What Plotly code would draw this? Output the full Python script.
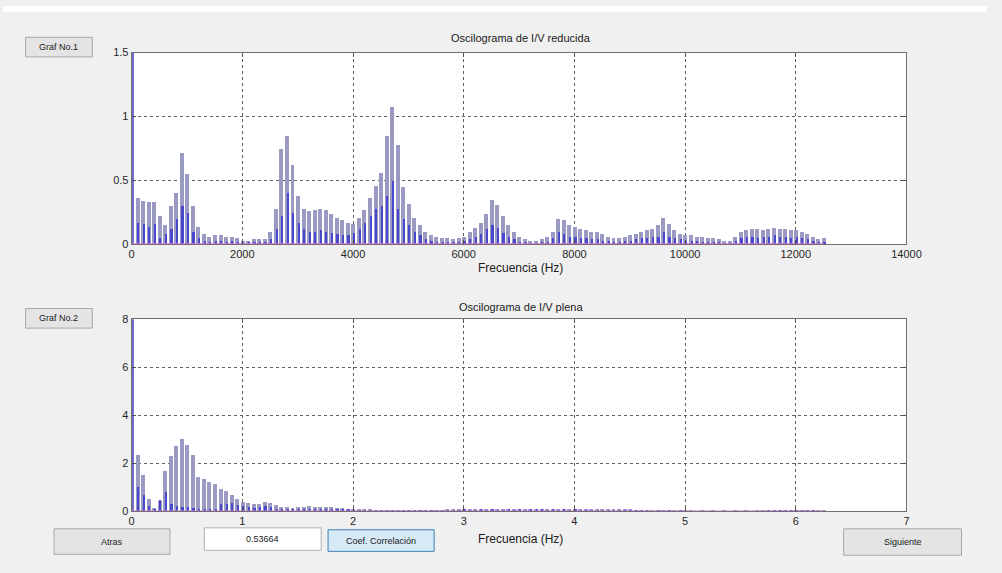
import plotly.graph_objects as go

# ---------------- data ----------------
freq_top = [100 * k for k in range(126)]          # Hz, 0 .. 12500
light_top = [0.45, 0.36, 0.34, 0.33, 0.33, 0.22, 0.15, 0.30, 0.40, 0.72,
             0.55, 0.30, 0.14, 0.08, 0.06, 0.07, 0.07, 0.06, 0.06, 0.05,
             0.03, 0.03, 0.04, 0.04, 0.04, 0.10, 0.28, 0.75, 0.85, 0.62,
             0.38, 0.28, 0.26, 0.27, 0.28, 0.27, 0.24, 0.21, 0.19, 0.17,
             0.16, 0.21, 0.27, 0.36, 0.46, 0.56, 0.85, 1.08, 0.78, 0.45,
             0.32, 0.21, 0.15, 0.10, 0.07, 0.06, 0.05, 0.05, 0.04, 0.05,
             0.06, 0.10, 0.13, 0.17, 0.24, 0.35, 0.31, 0.22, 0.15, 0.10,
             0.06, 0.04, 0.03, 0.03, 0.04, 0.06, 0.10, 0.20, 0.19, 0.15,
             0.14, 0.12, 0.11, 0.10, 0.10, 0.08, 0.06, 0.05, 0.05, 0.06,
             0.07, 0.08, 0.10, 0.11, 0.12, 0.15, 0.21, 0.16, 0.11, 0.08,
             0.07, 0.07, 0.06, 0.06, 0.05, 0.05, 0.04, 0.03, 0.03, 0.06,
             0.10, 0.11, 0.12, 0.12, 0.11, 0.12, 0.13, 0.12, 0.12, 0.11,
             0.11, 0.10, 0.08, 0.06, 0.04, 0.05]
dark_top = [0.20, 0.17, 0.16, 0.14, 0.16, 0.05, 0.08, 0.12, 0.20, 0.30,
            0.25, 0.10, 0.05, 0.03, 0.02, 0.03, 0.03, 0.02, 0.03, 0.02,
            0.01, 0.02, 0.02, 0.02, 0.02, 0.04, 0.12, 0.22, 0.40, 0.25,
            0.17, 0.12, 0.10, 0.10, 0.11, 0.10, 0.09, 0.08, 0.07, 0.07,
            0.09, 0.12, 0.17, 0.22, 0.28, 0.30, 0.38, 0.50, 0.28, 0.20,
            0.15, 0.10, 0.07, 0.04, 0.03, 0.02, 0.02, 0.02, 0.02, 0.02,
            0.03, 0.04, 0.06, 0.08, 0.12, 0.15, 0.13, 0.09, 0.06, 0.04,
            0.02, 0.02, 0.01, 0.01, 0.02, 0.02, 0.05, 0.10, 0.08, 0.06,
            0.06, 0.05, 0.05, 0.04, 0.04, 0.03, 0.03, 0.02, 0.02, 0.03,
            0.03, 0.04, 0.05, 0.05, 0.06, 0.06, 0.10, 0.06, 0.05, 0.04,
            0.03, 0.03, 0.03, 0.02, 0.02, 0.02, 0.02, 0.01, 0.01, 0.03,
            0.05, 0.06, 0.06, 0.05, 0.06, 0.06, 0.07, 0.06, 0.06, 0.05,
            0.06, 0.05, 0.04, 0.03, 0.02, 0.02]
dc_top = 1.6

freq_bot = [0.05 * k for k in range(126)]          # Hz, 0 .. 6.25
light_bot = [2.20, 2.35, 1.50, 0.50, 0.12, 0.40, 1.65, 2.30, 2.70, 3.00,
             2.75, 2.35, 1.40, 1.35, 1.20, 1.12, 0.92, 0.85, 0.65, 0.50,
             0.38, 0.33, 0.30, 0.30, 0.38, 0.32, 0.25, 0.18, 0.15, 0.14,
             0.15, 0.17, 0.20, 0.18, 0.17, 0.17, 0.15, 0.14, 0.12, 0.10,
             0.08, 0.06, 0.06, 0.05, 0.03, 0.03, 0.02, 0.03, 0.02, 0.02,
             0.03, 0.02, 0.03, 0.02, 0.02, 0.02, 0.03, 0.06, 0.06, 0.07,
             0.08, 0.07, 0.07, 0.08, 0.07, 0.08, 0.07, 0.07, 0.08, 0.07,
             0.08, 0.07, 0.08, 0.10, 0.08, 0.07, 0.08, 0.07, 0.08, 0.07,
             0.08, 0.07, 0.07, 0.06, 0.07, 0.06, 0.06, 0.05, 0.06, 0.05,
             0.04, 0.03, 0.02, 0.02, 0.01, 0.02, 0.01, 0.02, 0.01, 0.02,
             0.01, 0.01, 0.00, 0.01, 0.00, 0.01, 0.00, 0.01, 0.00, 0.01,
             0.00, 0.01, 0.00, 0.01, 0.01, 0.01, 0.02, 0.03, 0.02, 0.03,
             0.03, 0.02, 0.03, 0.02, 0.01, 0.01]
dark_bot = [1.10, 1.00, 0.65, 0.20, 0.05, 0.45, 0.80, 0.30, 0.20, 0.15,
            0.15, 0.12, 0.10, 0.10, 0.10, 0.08, 0.30, 0.30, 0.35, 0.25,
            0.20, 0.15, 0.12, 0.15, 0.20, 0.15, 0.10, 0.08, 0.06, 0.05,
            0.06, 0.07, 0.08, 0.07, 0.06, 0.06, 0.05, 0.05, 0.04, 0.04,
            0.03, 0.02, 0.02, 0.02, 0.01, 0.01, 0.01, 0.01, 0.01, 0.01,
            0.01, 0.01, 0.01, 0.01, 0.01, 0.01, 0.01, 0.02, 0.03, 0.03,
            0.04, 0.03, 0.03, 0.04, 0.03, 0.04, 0.03, 0.03, 0.04, 0.03,
            0.04, 0.03, 0.04, 0.05, 0.04, 0.03, 0.04, 0.03, 0.04, 0.03,
            0.04, 0.03, 0.03, 0.03, 0.03, 0.03, 0.03, 0.02, 0.03, 0.02,
            0.02, 0.01, 0.01, 0.01, 0.00, 0.01, 0.00, 0.01, 0.00, 0.01,
            0.00, 0.00, 0.00, 0.00, 0.00, 0.00, 0.00, 0.00, 0.00, 0.00,
            0.00, 0.00, 0.00, 0.00, 0.00, 0.01, 0.01, 0.01, 0.01, 0.01,
            0.01, 0.01, 0.01, 0.01, 0.00, 0.00]
dc_bot = 8.5

top_xticks = [0, 2000, 4000, 6000, 8000, 10000, 12000, 14000]
top_xticklabels = ["0", "2000", "4000", "6000", "8000", "10000", "12000", "14000"]
top_yticks = [0, 0.5, 1, 1.5]
top_yticklabels = ["0", "0.5", "1", "1.5"]
bot_xticks = [0, 1, 2, 3, 4, 5, 6, 7]
bot_yticks = [0, 2, 4, 6, 8]

title_top = "Oscilograma de I/V reducida"
title_bot = "Oscilograma de I/V plena"
xlabel = "Frecuencia (Hz)"
coef_value = "0.53664"

# ---------------- figure ----------------
W, H = 1002, 573
LIGHT = "#9a9ac2"
DARK = "#4848cc"
PINK = "#e070e0"
FONT = "Liberation Sans"


def px(x):
    return x / W


def py(y):
    return 1 - y / H


fig = go.Figure()

# top panel
fig.add_trace(go.Bar(x=freq_top, y=light_top, width=72, offset=-36,
                     marker=dict(color=LIGHT, line=dict(width=0)),
                     xaxis="x", yaxis="y", showlegend=False))
fig.add_trace(go.Bar(x=freq_top, y=dark_top, width=30, offset=2,
                     marker=dict(color=DARK, line=dict(width=0)),
                     xaxis="x", yaxis="y", showlegend=False))
fig.add_trace(go.Bar(x=[freq_top[0]], y=[dc_top], width=25, offset=0,
                     marker=dict(color="#7070cc", line=dict(width=0)),
                     xaxis="x", yaxis="y", showlegend=False))
fig.add_trace(go.Scatter(x=[freq_top[0], freq_top[-1]], y=[0, 0], mode="lines",
                         line=dict(color=PINK, width=1.5),
                         xaxis="x", yaxis="y", showlegend=False))

# bottom panel
fig.add_trace(go.Bar(x=freq_bot, y=light_bot, width=0.036, offset=-0.018,
                     marker=dict(color=LIGHT, line=dict(width=0)),
                     xaxis="x2", yaxis="y2", showlegend=False))
fig.add_trace(go.Bar(x=freq_bot, y=dark_bot, width=0.015, offset=0.001,
                     marker=dict(color=DARK, line=dict(width=0)),
                     xaxis="x2", yaxis="y2", showlegend=False))
fig.add_trace(go.Bar(x=[freq_bot[0]], y=[dc_bot], width=0.012, offset=0,
                     marker=dict(color="#7070cc", line=dict(width=0)),
                     xaxis="x2", yaxis="y2", showlegend=False))
fig.add_trace(go.Scatter(x=[freq_bot[0], freq_bot[-1]], y=[0, 0], mode="lines",
                         line=dict(color=PINK, width=1.5),
                         xaxis="x2", yaxis="y2", showlegend=False))

axis_common = dict(showline=True, linecolor="#707070", linewidth=1, mirror="ticks",
                   ticks="inside", ticklen=4, tickcolor="#505050",
                   showgrid=True, gridcolor="#606060", griddash="dot", gridwidth=1,
                   zeroline=False, tickfont=dict(family=FONT, size=11, color="#262626"))

xdom = [px(131), px(920)]
fig.update_layout(
    width=W, height=H,
    margin=dict(l=0, r=0, t=0, b=0),
    paper_bgcolor="#f0f0f0",
    plot_bgcolor="white",
    barmode="overlay",
    bargap=0,
    xaxis=dict(domain=xdom, range=[0, 14000], tickvals=top_xticks,
               ticktext=top_xticklabels, anchor="y", **axis_common),
    yaxis=dict(domain=[py(243), py(47.5)], range=[0, 1.5], tickvals=top_yticks,
               ticktext=top_yticklabels, anchor="x", **axis_common),
    xaxis2=dict(domain=xdom, range=[0, 7], tickvals=bot_xticks, anchor="y2",
                **axis_common),
    yaxis2=dict(domain=[py(516), py(320)], range=[0, 8], tickvals=bot_yticks,
                anchor="x2", **axis_common),
)

shapes = []
annotations = []

# white strip along the top edge
shapes.append(dict(type="rect", xref="paper", yref="paper", x0=0, x1=1,
                   y0=py(6), y1=1, fillcolor="white", line=dict(width=0), layer="below"))


def text(x, y, s, size=11, color="#1a1a1a"):
    annotations.append(dict(xref="paper", yref="paper", x=px(x), y=py(y), text=s,
                            showarrow=False, xanchor="center", yanchor="middle",
                            font=dict(family=FONT, size=size, color=color)))


def button(x0, y0, x1, y1, label, fill="#e4e4e4", border="#a8a8a8", size=9):
    shapes.append(dict(type="rect", xref="paper", yref="paper",
                       x0=px(x0), x1=px(x1), y0=py(y1), y1=py(y0),
                       fillcolor=fill, line=dict(color=border, width=1)))
    text((x0 + x1) / 2, (y0 + y1) / 2, label, size=size, color="#202020")


text(527, 33, title_top, size=11)
text(527, 307, title_bot, size=11)
text(527, 268, xlabel, size=12)
text(527, 544, xlabel, size=12)

button(23, 32, 91, 52, "Graf No.1")
button(23, 309, 91, 329, "Graf No.2")
button(52, 534, 170, 560, "Atras")
button(205, 533, 324, 556, coef_value, fill="white", border="#b0b0b0")
button(331, 535, 439, 557, "Coef. Correlación", fill="#d6e9f7", border="#3c7fb1")
button(856, 534, 976, 561, "Siguiente")

fig.update_layout(shapes=shapes, annotations=annotations)
fig.write_html("out.html", config={"displayModeBar": False, "responsive": False},
               default_width="1002px", default_height="573px")

# remove the default page margin so the figure sits at the window origin
with open("out.html", "r", encoding="utf-8") as f:
    html = f.read()
html = html.replace("<head>", "<head><style>html,body{margin:0;padding:0;overflow:hidden;}</style>", 1)
with open("out.html", "w", encoding="utf-8") as f:
    f.write(html)
